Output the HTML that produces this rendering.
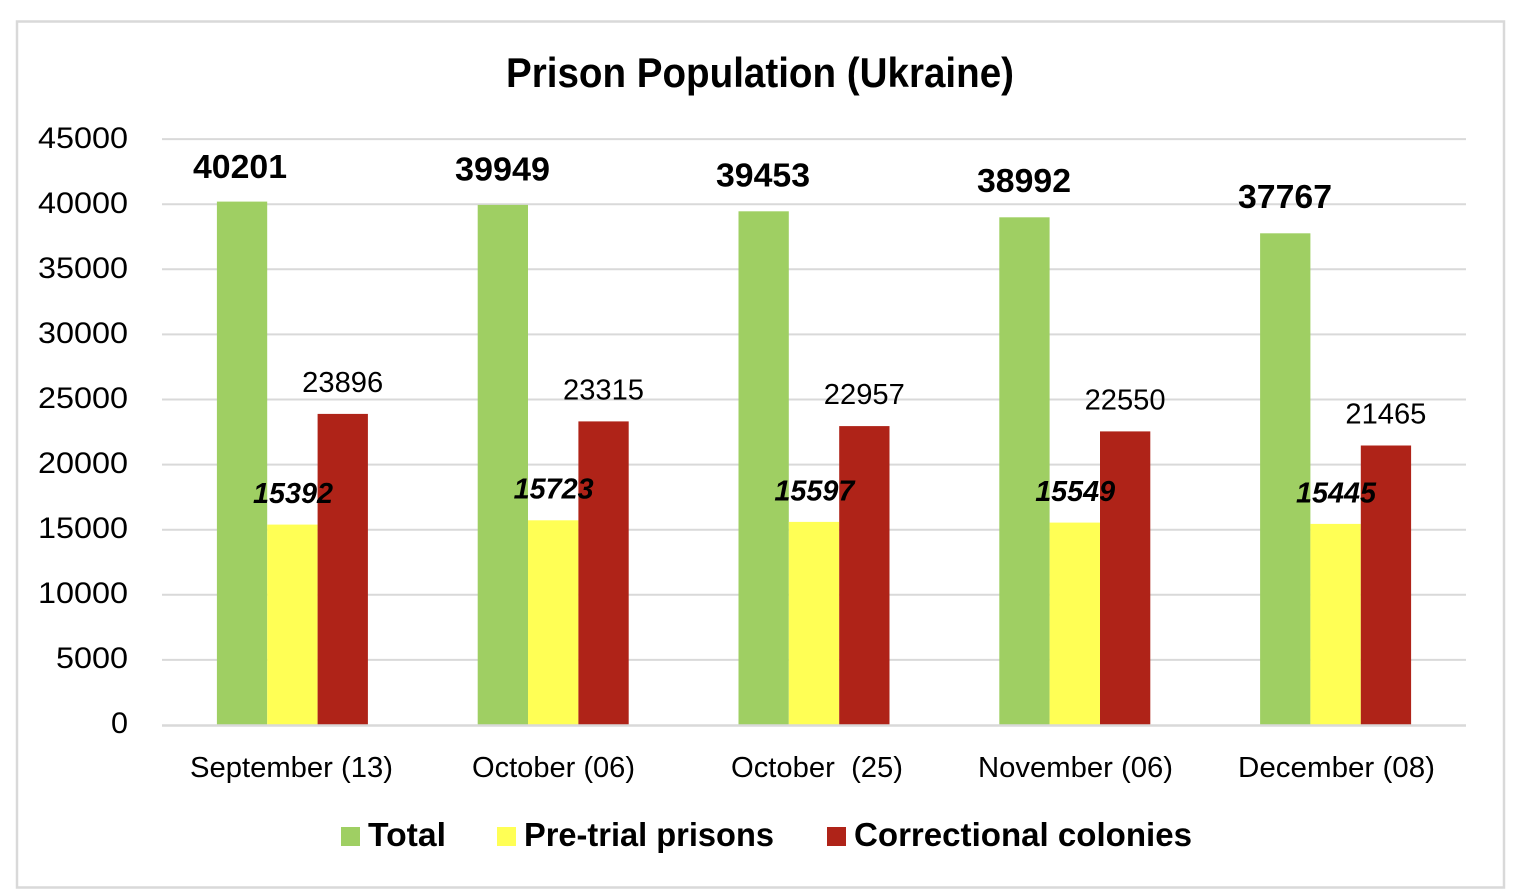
<!DOCTYPE html>
<html>
<head>
<meta charset="utf-8">
<style>
html,body{margin:0;padding:0;background:#fff;}
svg{display:block;}
text{font-family:"Liberation Sans",Arial,sans-serif;fill:#000;}
</style>
</head>
<body>
<svg width="1522" height="896" viewBox="0 0 1522 896" xmlns="http://www.w3.org/2000/svg">
<rect x="0" y="0" width="1522" height="896" fill="#fff"/>
<rect x="17" y="21.5" width="1487" height="866" fill="#fff" stroke="#d9d9d9" stroke-width="2.5"/>

<text x="760" y="87" font-size="42" font-weight="bold" text-anchor="middle" textLength="508" lengthAdjust="spacingAndGlyphs">Prison Population (Ukraine)</text>

<!-- gridlines -->
<g stroke="#d9d9d9" stroke-width="2">
<line x1="162" x2="1466" y1="139.1" y2="139.1"/>
<line x1="162" x2="1466" y1="204.2" y2="204.2"/>
<line x1="162" x2="1466" y1="269.3" y2="269.3"/>
<line x1="162" x2="1466" y1="334.4" y2="334.4"/>
<line x1="162" x2="1466" y1="399.5" y2="399.5"/>
<line x1="162" x2="1466" y1="464.6" y2="464.6"/>
<line x1="162" x2="1466" y1="529.7" y2="529.7"/>
<line x1="162" x2="1466" y1="594.8" y2="594.8"/>
<line x1="162" x2="1466" y1="659.9" y2="659.9"/>
</g>

<!-- y-axis labels -->
<g font-size="30" text-anchor="end">
<text x="128" y="148" textLength="90" lengthAdjust="spacingAndGlyphs">45000</text>
<text x="128" y="213" textLength="90" lengthAdjust="spacingAndGlyphs">40000</text>
<text x="128" y="278" textLength="90" lengthAdjust="spacingAndGlyphs">35000</text>
<text x="128" y="343" textLength="90" lengthAdjust="spacingAndGlyphs">30000</text>
<text x="128" y="408" textLength="90" lengthAdjust="spacingAndGlyphs">25000</text>
<text x="128" y="473" textLength="90" lengthAdjust="spacingAndGlyphs">20000</text>
<text x="128" y="538" textLength="90" lengthAdjust="spacingAndGlyphs">15000</text>
<text x="128" y="603" textLength="90" lengthAdjust="spacingAndGlyphs">10000</text>
<text x="128" y="668" textLength="72" lengthAdjust="spacingAndGlyphs">5000</text>
<text x="128" y="733" textLength="17" lengthAdjust="spacingAndGlyphs">0</text>
</g>

<!-- bars -->
<g>
<rect x="216.9" y="201.6" width="50.3" height="523.4" fill="#9fcf63"/>
<rect x="267.2" y="524.6" width="50.4" height="200.4" fill="#ffff55"/>
<rect x="317.6" y="413.9" width="50.3" height="311.1" fill="#af2318"/>
<rect x="477.7" y="204.9" width="50.3" height="520.1" fill="#9fcf63"/>
<rect x="528.0" y="520.3" width="50.4" height="204.7" fill="#ffff55"/>
<rect x="578.4" y="421.4" width="50.3" height="303.6" fill="#af2318"/>
<rect x="738.5" y="211.3" width="50.3" height="513.7" fill="#9fcf63"/>
<rect x="788.8" y="521.9" width="50.4" height="203.1" fill="#ffff55"/>
<rect x="839.2" y="426.1" width="50.3" height="298.9" fill="#af2318"/>
<rect x="999.3" y="217.3" width="50.3" height="507.7" fill="#9fcf63"/>
<rect x="1049.6" y="522.6" width="50.4" height="202.4" fill="#ffff55"/>
<rect x="1100.0" y="431.4" width="50.3" height="293.6" fill="#af2318"/>
<rect x="1260.1" y="233.3" width="50.3" height="491.7" fill="#9fcf63"/>
<rect x="1310.4" y="523.9" width="50.4" height="201.1" fill="#ffff55"/>
<rect x="1360.8" y="445.5" width="50.3" height="279.5" fill="#af2318"/>
</g>

<!-- zero axis -->
<line x1="162" x2="1466" y1="725.5" y2="725.5" stroke="#d9d9d9" stroke-width="2.5"/>

<!-- total labels -->
<g font-size="33" font-weight="bold" text-anchor="middle">
<text x="240" y="178" textLength="94" lengthAdjust="spacingAndGlyphs">40201</text>
<text x="502.5" y="180.5" textLength="95" lengthAdjust="spacingAndGlyphs">39949</text>
<text x="763" y="186.5" textLength="94" lengthAdjust="spacingAndGlyphs">39453</text>
<text x="1024" y="192" textLength="94" lengthAdjust="spacingAndGlyphs">38992</text>
<text x="1285" y="208" textLength="94" lengthAdjust="spacingAndGlyphs">37767</text>
</g>

<!-- pre-trial labels -->
<g font-size="29" font-weight="bold" font-style="italic" text-anchor="middle">
<text x="293" y="503" textLength="80" lengthAdjust="spacingAndGlyphs">15392</text>
<text x="553.6" y="498.7" textLength="80" lengthAdjust="spacingAndGlyphs">15723</text>
<text x="814.4" y="500.3" textLength="80" lengthAdjust="spacingAndGlyphs">15597</text>
<text x="1075.2" y="501" textLength="80" lengthAdjust="spacingAndGlyphs">15549</text>
<text x="1336" y="502.3" textLength="80" lengthAdjust="spacingAndGlyphs">15445</text>
</g>

<!-- colonies labels -->
<g font-size="29" text-anchor="middle">
<text x="342.7" y="392" textLength="81" lengthAdjust="spacingAndGlyphs">23896</text>
<text x="603.5" y="399.4" textLength="81" lengthAdjust="spacingAndGlyphs">23315</text>
<text x="864.3" y="404" textLength="81" lengthAdjust="spacingAndGlyphs">22957</text>
<text x="1125.1" y="409.4" textLength="81" lengthAdjust="spacingAndGlyphs">22550</text>
<text x="1385.9" y="423.5" textLength="81" lengthAdjust="spacingAndGlyphs">21465</text>
</g>

<!-- category labels -->
<g font-size="29" text-anchor="middle">
<text x="291.5" y="777" textLength="203" lengthAdjust="spacingAndGlyphs">September (13)</text>
<text x="553.5" y="777" textLength="163" lengthAdjust="spacingAndGlyphs">October (06)</text>
<text x="817" y="777" textLength="172" lengthAdjust="spacingAndGlyphs" xml:space="preserve">October  (25)</text>
<text x="1075.5" y="777" textLength="195" lengthAdjust="spacingAndGlyphs">November (06)</text>
<text x="1336.5" y="777" textLength="197" lengthAdjust="spacingAndGlyphs">December (08)</text>
</g>

<!-- legend -->
<rect x="341" y="827" width="19" height="19" fill="#9fcf63"/>
<text x="368" y="846" font-size="33" font-weight="bold" textLength="78" lengthAdjust="spacingAndGlyphs">Total</text>
<rect x="497" y="827" width="19" height="19" fill="#ffff55"/>
<text x="524" y="846" font-size="33" font-weight="bold" textLength="250" lengthAdjust="spacingAndGlyphs">Pre-trial prisons</text>
<rect x="827" y="827" width="19" height="19" fill="#af2318"/>
<text x="854" y="846" font-size="33" font-weight="bold" textLength="338" lengthAdjust="spacingAndGlyphs">Correctional colonies</text>
</svg>
</body>
</html>
